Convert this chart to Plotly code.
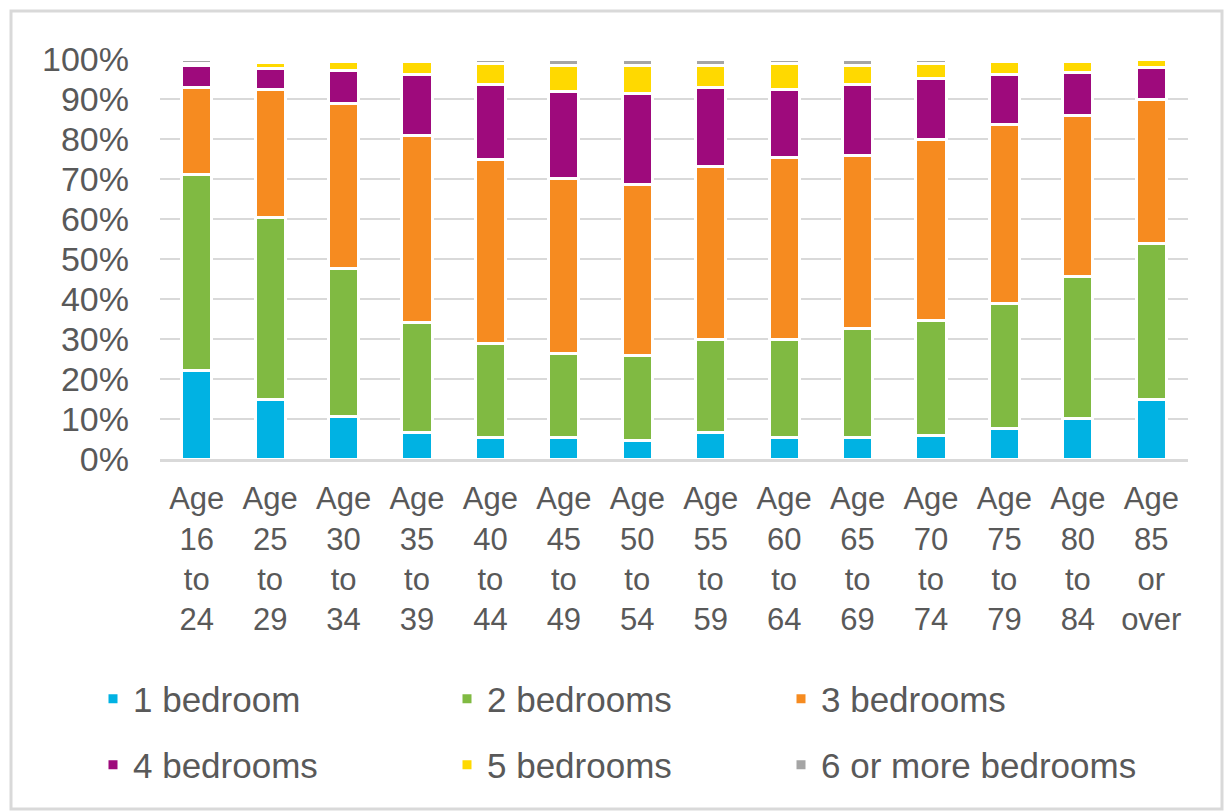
import plotly.graph_objects as go

# Age bands of the household reference person
age_groups = [
    "Age<br>16<br>to<br>24", "Age<br>25<br>to<br>29", "Age<br>30<br>to<br>34",
    "Age<br>35<br>to<br>39", "Age<br>40<br>to<br>44", "Age<br>45<br>to<br>49",
    "Age<br>50<br>to<br>54", "Age<br>55<br>to<br>59", "Age<br>60<br>to<br>64",
    "Age<br>65<br>to<br>69", "Age<br>70<br>to<br>74", "Age<br>75<br>to<br>79",
    "Age<br>80<br>to<br>84", "Age<br>85<br>or<br>over",
]

# Share of households (%) by number of bedrooms
bed_1 = [22.1, 14.9, 10.7, 6.6, 5.5, 5.5, 4.7, 6.6, 5.5, 5.5, 6.0, 7.6, 10.2, 14.9]
bed_2 = [49.1, 45.4, 37.0, 27.6, 23.5, 20.9, 21.2, 23.4, 24.5, 27.1, 28.7, 31.2, 35.4, 39.1]
bed_3 = [21.8, 32.2, 41.2, 46.8, 45.8, 43.8, 42.7, 43.2, 45.3, 43.2, 45.3, 44.9, 40.2, 35.9]
bed_4 = [5.3, 5.2, 8.3, 15.2, 18.8, 21.8, 22.9, 19.8, 17.2, 17.8, 15.2, 12.5, 10.9, 7.9]
bed_5 = [0.7, 1.5, 2.1, 3.1, 5.2, 6.3, 6.8, 5.3, 6.3, 4.7, 3.6, 3.1, 2.6, 2.0]
bed_6 = [1.0, 0.8, 0.7, 0.7, 1.2, 1.7, 1.7, 1.7, 1.2, 1.7, 1.2, 0.7, 0.7, 0.2]

series_names = ["1 bedroom", "2 bedrooms", "3 bedrooms",
                "4 bedrooms", "5 bedrooms", "6 or more bedrooms"]
series_values = [bed_1, bed_2, bed_3, bed_4, bed_5, bed_6]
series_colors = ["#00B2E3", "#80BA42", "#F68B20", "#9E0A7C", "#FFD900", "#A5A5A5"]

# legend entry widths (px) for the three legend columns
column_widths = [309, 289, 360]

FONT = "Liberation Sans, Arial, sans-serif"
TEXT = "#595959"
GRID = "#D9D9D9"

fig = go.Figure()
for i, (name, vals, col) in enumerate(zip(series_names, series_values, series_colors)):
    fig.add_trace(go.Bar(
        x=age_groups, y=vals, name=name,
        marker=dict(color=col, line=dict(color="white", width=3)),
        legend="legend" if i < 3 else "legend2",
        legendwidth=column_widths[i % 3],
    ))

W, H = 1225, 812
L, R, T, B = 160, 37, 59, 353
pw, ph = W - L - R, H - T - B

def px_x(x):
    return (x - L) / pw

def px_y(y):
    return (H - B - y) / ph

legend_common = dict(
    orientation="h", xanchor="left", yanchor="middle",
    font=dict(family=FONT, size=35, color=TEXT),
    traceorder="normal", bgcolor="rgba(0,0,0,0)",
)

fig.update_layout(
    width=W, height=H,
    margin=dict(l=L, r=R, t=T, b=B),
    paper_bgcolor="white", plot_bgcolor="white",
    barmode="stack", barnorm="percent", bargap=0.59,
    font=dict(family=FONT, color=TEXT),
    legend=dict(x=px_x(93), y=px_y(699), **legend_common),
    legend2=dict(x=px_x(93), y=px_y(765), **legend_common),
    xaxis=dict(
        showgrid=False, showline=True, linecolor=GRID, linewidth=3,
        tickfont=dict(family=FONT, size=31, color=TEXT), ticks="",
        ticklabelstandoff=10,
    ),
    yaxis=dict(
        range=[0, 100], dtick=10, ticksuffix="%",
        showgrid=True, gridcolor=GRID, gridwidth=2,
        zeroline=False, showline=False, ticks="",
        tickfont=dict(family=FONT, size=34, color=TEXT),
        ticklabelstandoff=30,
    ),
    shapes=[dict(
        type="rect", xref="paper", yref="paper",
        x0=px_x(11), x1=px_x(1222), y0=px_y(809), y1=px_y(11),
        line=dict(color=GRID, width=3), layer="below",
    )],
)

fig.write_html("out.html")
